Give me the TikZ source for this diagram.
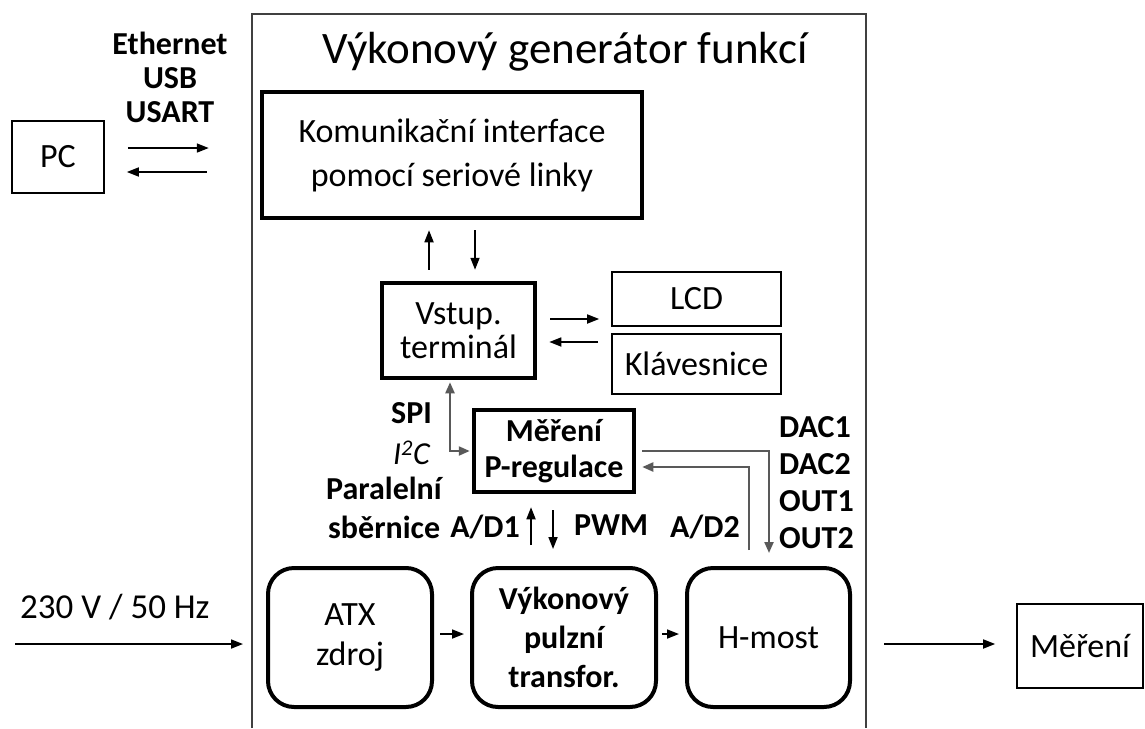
\documentclass[tikz,border=0pt]{standalone}
\usepackage{fontspec}
\setmainfont{Carlito}
\usetikzlibrary{arrows.meta,calc}
\begin{document}
\begin{tikzpicture}[x=1pt,y=-1pt,
  base/.style={inner sep=0pt, align=center},
  thinbox/.style={base, draw, line width=1.6pt, font=\fontsize{34}{40}\selectfont},
  thickbox/.style={base, draw, line width=4.5pt},
  roundbox/.style={base, draw, line width=4pt, rounded corners=26pt, minimum height=139},
  lbl/.style={base, font=\bfseries\fontsize{32}{34}\selectfont},
  arr/.style={-{Triangle[length=12pt,width=9pt]}, line width=1.7pt},
  garr/.style={-{Triangle[length=11pt,width=9pt]}, line width=2.2pt, draw=black!65},
  frame/.style={line width=2.4pt, draw=black!75}
]
\useasboundingbox (0,0) rectangle (1145,728);
\draw[frame] (252,728) -- (252,14) -- (866,14) -- (866,728);
\node[base, font=\fontsize{45}{50}\selectfont] (title) at (565,52) {Výkonový generátor funkcí};

\node[thinbox, minimum width=92, minimum height=72] (pc) at (58,157) {PC};
\node[lbl] (eth) at (170,77) {Ethernet\\USB\\USART};

\node[thickbox, minimum width=380, minimum height=126, font=\fontsize{34}{44}\selectfont] (kom) at (452,155) {Komunikační interface\\pomocí seriové linky};
\node[thickbox, minimum width=153, minimum height=95, font=\fontsize{34}{34}\selectfont] (vstup) at (458.5,330.5) {Vstup.\\terminál};
\node[thinbox, minimum width=169, minimum height=54] (lcd) at (696.5,299) {LCD};
\node[thinbox, minimum width=169, minimum height=60] (klav) at (696.5,364) {Klávesnice};
\node[thickbox, minimum width=160, minimum height=82, font=\bfseries\fontsize{32}{36}\selectfont] (mer) at (554,451) {Měření\\P-regulace};

\node[roundbox, minimum width=164, font=\fontsize{34}{40}\selectfont] (atx) at (350,637.5) {ATX\\zdroj};
\node[roundbox, minimum width=184, font=\bfseries\fontsize{32}{39}\selectfont] (vyk) at (564,637.5) {Výkonový\\pulzní\\transfor.};
\node[roundbox, minimum width=163, font=\fontsize{34}{40}\selectfont] (hmost) at (768.5,637.5) {H-most};
\node[thinbox, minimum width=126, minimum height=84] (mout) at (1080,646) {Měření};

% labels
\node[lbl, anchor=east] (spi) at (432,413) {SPI};
\node[base, anchor=east, font=\itshape\fontsize{32}{33}\selectfont] (i2c) at (430,453) {I\textsuperscript{2}C};
\node[lbl, anchor=west] (par) at (326,488) {Paralelní};
\node[lbl, anchor=west] (sbe) at (328,527) {sběrnice};
\node[lbl, anchor=east] (ad1) at (520,527) {A/D1};
\node[lbl, anchor=west] (pwm) at (574,525) {PWM};
\node[lbl, anchor=west] (ad2) at (670,527) {A/D2};
\node[lbl, anchor=west] (dac1) at (779,427) {DAC1};
\node[lbl, anchor=west] (dac2) at (779,464) {DAC2};
\node[lbl, anchor=west] (out1) at (779,501) {OUT1};
\node[lbl, anchor=west] (out2) at (779,538) {OUT2};
\node[base, anchor=west, font=\fontsize{35}{40}\selectfont] (mainslbl) at (20,607) {230 V / 50 Hz};

% connectors
\draw[arr, shorten <=23pt, shorten >=51pt] (pc.east |- 0,148) -- (kom.west |- 0,148);
\draw[arr, shorten <=53pt, shorten >=22pt] (kom.west |- 0,172) -- (pc.east |- 0,172);
\draw[arr, shorten <=11pt, shorten >=10pt] (vstup.north -| 429,0) -- (kom.south -| 429,0);
\draw[arr, shorten <=10pt, shorten >=11pt] (kom.south -| 475,0) -- (vstup.north -| 475,0);
\draw[arr, shorten <=13pt, shorten >=12pt] (vstup.east |- 0,319) -- (lcd.west |- 0,319);
\draw[arr, shorten <=13pt, shorten >=12pt] (klav.west |- 0,342) -- (vstup.east |- 0,342);
\draw[garr, {Triangle[length=11pt,width=9pt]}-{Triangle[length=11pt,width=9pt]}, shorten <=2pt, shorten >=2pt] (vstup.south -| 450,0) |- (mer.west);
\draw[arr, shorten <=21pt, shorten >=13pt] (vyk.north -| 531,0) -- (mer.south -| 531,0);
\draw[arr, shorten <=16pt, shorten >=17pt] (mer.south -| 553,0) -- (vyk.north -| 553,0);
\draw[garr, shorten <=6pt, shorten >=13pt] (mer.east) -| (hmost.north -| 769,0);
\draw[garr, shorten <=16pt, shorten >=6pt] (hmost.north -| 749,0) |- (mer.east |- 0,467);
\draw[arr, shorten <=6pt, shorten >=6pt] (atx.east |- 0,634) -- (vyk.west |- 0,634);
\draw[arr, shorten <=4pt, shorten >=6pt] (vyk.east |- 0,634) -- (hmost.west |- 0,634);
\coordinate (mains) at (15,644);
\draw[arr, shorten >=23pt] (mains) -- (atx.west |- mains);
\draw[arr, shorten <=32pt, shorten >=21pt] (hmost.east |- 0,644) -- (mout.west |- 0,644);
\end{tikzpicture}
\end{document}
